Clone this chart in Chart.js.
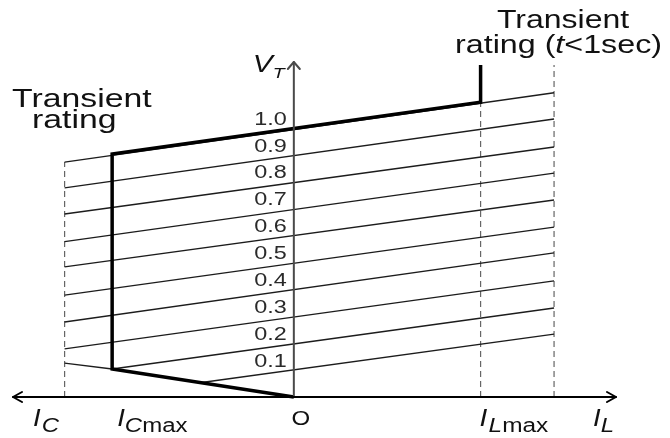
<!DOCTYPE html>
<html>
<head>
<meta charset="utf-8">
<script src="https://cdn.jsdelivr.net/npm/chart.js@4.4.1/dist/chart.umd.min.js"></script>
<style>
    html, body { margin: 0; padding: 0; background: #fff; }
    #wrap { width: 670px; height: 438px; }
</style>
</head>
<body>
<div id="wrap"><canvas id="vi-chart" width="670" height="438"></canvas></div>
<script>
// Caractéristique V-I (courant capacitif à gauche, inductif à droite)

const refLevels = [0.1, 0.2, 0.3, 0.4, 0.5, 0.6, 0.7, 0.8, 0.9, 1.0];
const levelLabels = ['0.1', '0.2', '0.3', '0.4', '0.5', '0.6', '0.7', '0.8', '0.9', '1.0'];

// Extrémité gauche de chaque droite (courant, tension)
const lineStartI = [-0.50, -0.967, -1.22, -1.22, -1.22, -1.22, -1.22, -1.22, -1.22, -1.22];
const lineStartV = [0.053, 0.104, 0.179, 0.279, 0.379, 0.484, 0.578, 0.681, 0.778, 0.874];

// Extrémité droite de chaque droite
const lineEndI = [1.385, 1.385, 1.385, 1.385, 1.385, 1.385, 1.385, 1.385, 1.385, 1.385];
const lineEndV = [0.234, 0.331, 0.432, 0.536, 0.632, 0.733, 0.833, 0.930, 1.034, 1.132];

// Prolongement de la pente basse à gauche de I_Cmax
const slopeExtI = [-1.22, -0.967];
const slopeExtV = [0.126, 0.104];

// Caractéristique en trait gras
const ratingI = [0, -0.967, -0.967, 0.994, 0.994];
const ratingV = [0, 0.104, 0.904, 1.097, 1.235];

// Verticales en pointillés : position en courant et hauteur
const limitI = [-1.22, 0.994, 1.385];
const limitTopV = [0.874, 1.097, 1.235];

// Repères de courant nommés sur l'axe horizontal
const currentMarkI = { cmax: -0.967, lmax: 0.994 };

const FONT = '"Liberation Sans", Arial, sans-serif';
const TEXT_COLOR = '#111';

function toPoints(xs, ys) {
    return xs.map((x, i) => ({ x: x, y: ys[i] }));
}

/**
 * Dessine un texte composé (italique, indices) étiré horizontalement
 */
function drawRich(ctx, x, y, parts, sx, align) {
    ctx.save();
    ctx.fillStyle = TEXT_COLOR;
    ctx.textBaseline = 'alphabetic';
    ctx.textAlign = 'left';
    let total = 0;
    parts.forEach(p => {
        ctx.font = p.font;
        total += ctx.measureText(p.t).width;
    });
    ctx.translate(x, y);
    ctx.scale(sx, 1);
    let cx = 0;
    if (align === 'center') cx = -total / 2;
    if (align === 'right') cx = -total;
    parts.forEach(p => {
        ctx.font = p.font;
        ctx.fillText(p.t, cx, p.dy || 0);
        cx += ctx.measureText(p.t).width + (p.gap || 0);
    });
    ctx.restore();
}

// Axes avec flèches
const axesPlugin = {
    id: 'axesArrows',
    afterDatasetsDraw(chart) {
        const ctx = chart.ctx;
        const area = chart.chartArea;
        const x0 = chart.scales.x.getPixelForValue(0);
        const y0 = chart.scales.y.getPixelForValue(0);
        ctx.save();
        ctx.lineCap = 'round';
        ctx.lineJoin = 'round';

        // axe vertical
        ctx.strokeStyle = '#4a4a4a';
        ctx.lineWidth = 2;
        ctx.beginPath();
        ctx.moveTo(x0, y0);
        ctx.lineTo(x0, area.top + 1);
        ctx.stroke();
        ctx.beginPath();
        ctx.moveTo(x0 - 6, area.top + 8);
        ctx.lineTo(x0, area.top + 1);
        ctx.lineTo(x0 + 6, area.top + 8);
        ctx.stroke();

        // axe horizontal
        ctx.strokeStyle = '#000';
        ctx.lineWidth = 2;
        ctx.beginPath();
        ctx.moveTo(area.left + 1, y0);
        ctx.lineTo(area.right - 1, y0);
        ctx.stroke();
        ctx.beginPath();
        ctx.moveTo(area.left + 10, y0 - 5);
        ctx.lineTo(area.left + 1, y0);
        ctx.lineTo(area.left + 10, y0 + 5);
        ctx.stroke();
        ctx.beginPath();
        ctx.moveTo(area.right - 10, y0 - 5);
        ctx.lineTo(area.right - 1, y0);
        ctx.lineTo(area.right - 10, y0 + 5);
        ctx.stroke();
        ctx.restore();
    }
};

// Textes : niveaux, noms des axes, annotations
const labelsPlugin = {
    id: 'viLabels',
    afterDraw(chart) {
        const ctx = chart.ctx;
        const xs = chart.scales.x;
        const ys = chart.scales.y;
        const x0 = xs.getPixelForValue(0);

        // niveaux de tension à gauche de l'axe
        refLevels.forEach((lvl, i) => {
            ctx.save();
            ctx.fillStyle = '#2a2a2a';
            ctx.font = '18px ' + FONT;
            ctx.translate(x0 - 7, ys.getPixelForValue(lvl) - 3.5);
            ctx.scale(1.3, 1);
            ctx.textAlign = 'right';
            ctx.fillText(levelLabels[i], 0, 0);
            ctx.restore();
        });

        const it = (s) => 'italic ' + s + 'px ' + FONT;
        const up = (s) => s + 'px ' + FONT;

        // V_T
        drawRich(ctx, x0 - 41, 72, [
            { t: 'V', font: it(23) },
            { t: 'T', font: it(15), dy: 6 }
        ], 1.3, 'left');

        // Transient rating (gauche)
        drawRich(ctx, 12, 107, [{ t: 'Transient', font: up(26) }], 1.3, 'left');
        drawRich(ctx, 32, 128, [{ t: 'rating', font: up(26) }], 1.3, 'left');

        // Transient rating (t<1sec) (droite)
        drawRich(ctx, 497, 28, [{ t: 'Transient', font: up(25) }], 1.28, 'left');
        drawRich(ctx, 455, 53, [
            { t: 'rating (', font: up(25) },
            { t: 't', font: it(25) },
            { t: '<1sec)', font: up(25) }
        ], 1.29, 'left');

        // Courants sur l'axe horizontal
        const lab = 426;
        drawRich(ctx, 33, lab, [
            { t: 'I', font: it(23), gap: 1 },
            { t: 'C', font: it(20), dy: 6 }
        ], 1.2, 'left');
        drawRich(ctx, xs.getPixelForValue(currentMarkI.cmax) + 5, lab, [
            { t: 'I', font: it(23) },
            { t: 'C', font: it(20), dy: 6 },
            { t: 'max', font: up(20), dy: 6 }
        ], 1.2, 'left');
        drawRich(ctx, x0 + 7, 425, [{ t: 'O', font: up(20) }], 1.2, 'center');
        drawRich(ctx, xs.getPixelForValue(currentMarkI.lmax) - 1, lab, [
            { t: 'I', font: it(23), gap: 1 },
            { t: 'L', font: it(20), dy: 6 },
            { t: 'max', font: up(20), dy: 6 }
        ], 1.22, 'left');
        drawRich(ctx, 593, lab, [
            { t: 'I', font: it(23) },
            { t: 'L', font: it(20), dy: 6 }
        ], 1.2, 'left');
    }
};

function buildDatasets() {
    const datasets = [];

    // caractéristique en gras (au-dessus des autres)
    datasets.push({
        label: 'Caractéristique',
        data: toPoints(ratingI, ratingV),
        borderColor: '#000',
        borderWidth: 3.5,
        borderJoinStyle: 'miter',
        order: 0
    });

    // droites de référence
    refLevels.forEach((lvl, i) => {
        datasets.push({
            label: 'Vref ' + levelLabels[i],
            data: [
                { x: lineStartI[i], y: lineStartV[i] },
                { x: lineEndI[i], y: lineEndV[i] }
            ],
            borderColor: '#1c1c1c',
            borderWidth: 1.4,
            order: 1
        });
    });

    datasets.push({
        label: 'Pente basse',
        data: toPoints(slopeExtI, slopeExtV),
        borderColor: '#1c1c1c',
        borderWidth: 1.4,
        order: 1
    });

    // limites en pointillés
    limitI.forEach((li, i) => {
        datasets.push({
            label: 'Limite ' + i,
            data: [{ x: li, y: 0 }, { x: li, y: limitTopV[i] }],
            borderColor: '#666',
            borderWidth: 1.2,
            borderDash: [6, 4],
            order: 2
        });
    });

    return datasets;
}

const ctx = document.getElementById('vi-chart').getContext('2d');
const viChart = new Chart(ctx, {
    type: 'scatter',
    data: { datasets: buildDatasets() },
    options: {
        responsive: false,
        animation: false,
        devicePixelRatio: 1,
        showLine: true,
        clip: false,
        layout: {
            padding: { left: 12, right: 53, top: 61, bottom: 41 }
        },
        elements: {
            point: { radius: 0, hoverRadius: 0 },
            line: { tension: 0, fill: false, borderCapStyle: 'butt' }
        },
        plugins: {
            legend: { display: false },
            tooltip: { enabled: false }
        },
        scales: {
            x: { type: 'linear', display: false, min: -1.5, max: 1.72 },
            y: { type: 'linear', display: false, min: 0, max: 1.25 }
        }
    },
    plugins: [axesPlugin, labelsPlugin]
});
</script>
</body>
</html>
